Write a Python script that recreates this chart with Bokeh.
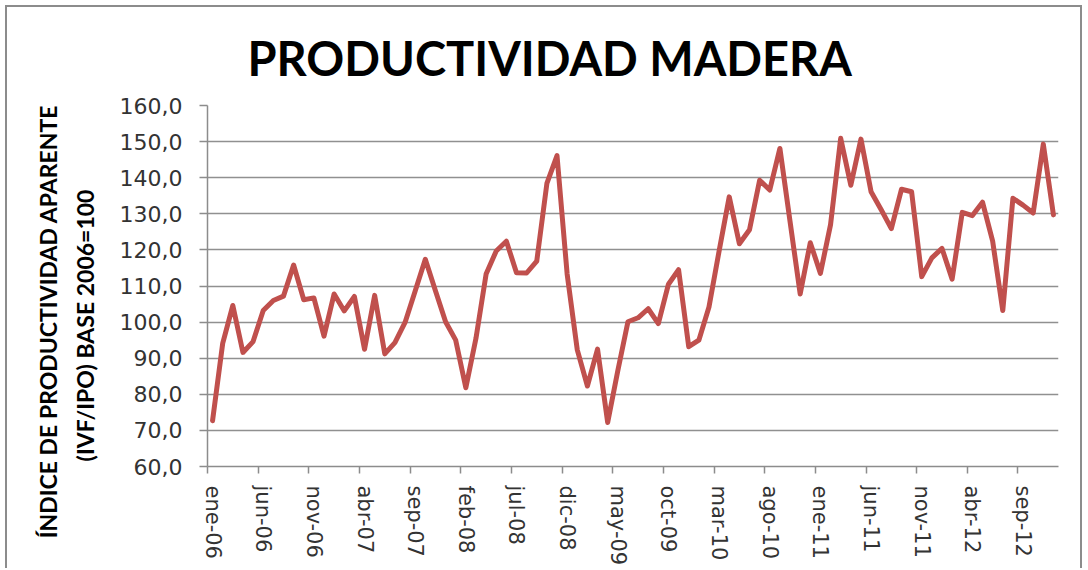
import math
from bokeh.plotting import figure
from bokeh.layouts import row
from bokeh.models import Range1d, FixedTicker, LinearAxis, ColumnDataSource, Grid
from bokeh.core.properties import value
from bokeh.embed import file_html
from bokeh.resources import INLINE

# ---------------- data ----------------
months = ["ene", "feb", "mar", "abr", "may", "jun", "jul", "ago", "sep", "oct", "nov", "dic"]
years = ["06", "07", "08", "09", "10", "11", "12"]
periods = [f"{m}-{y}" for y in years for m in months]

values = [
    72.7, 94.1, 104.6, 91.6, 94.6, 103.2, 106.0, 107.2, 115.8, 106.2, 106.7, 96.1,
    107.8, 103.1, 107.1, 92.5, 107.4, 91.2, 94.3, 99.9, 108.6, 117.4, 108.7, 100.1,
    95.0, 81.8, 95.5, 113.3, 119.7, 122.4, 113.7, 113.6, 116.9, 138.4, 146.1, 113.3,
    92.3, 82.3, 92.5, 72.2, 86.5, 100.1, 101.2, 103.7, 99.6, 110.5, 114.5, 93.2,
    95.0, 104.2, 119.7, 134.7, 121.7, 125.6, 139.3, 136.6, 148.1, 127.9, 107.8, 122.0,
    113.5, 127.0, 150.9, 137.9, 150.7, 136.1, 131.1, 125.9, 136.8, 136.1, 112.6, 117.8,
    120.4, 111.9, 130.4, 129.5, 133.2, 122.4, 103.2, 134.3, 132.4, 130.2, 149.3, 129.7,
]

y_ticks = [60, 70, 80, 90, 100, 110, 120, 130, 140, 150, 160]
y_tick_labels = ["60,0", "70,0", "80,0", "90,0", "100,0", "110,0", "120,0",
                 "130,0", "140,0", "150,0", "160,0"]
label_step = 5

title_text = "PRODUCTIVIDAD MADERA"
ytitle_lines = ["ÍNDICE DE PRODUCTIVIDAD APARENTE", "(IVF/IPO) BASE 2006=100"]

# ---------------- layout (page pixels) ----------------
N = len(periods)
Y_MIN, Y_MAX = y_ticks[0], y_ticks[-1]
OX, OY = 7, 7            # content origin on page (5 margin + 2 border)
H = 561
WT = 100                 # width of the y-title strip
WM = 973                 # width of the chart
FL, FT, FW, FH = 207 - OX - WT, 105 - OY, 851, 365
FRAME_LEFT_PAGE = OX + WT + FL

# ---------- y-title strip ----------
tfig = figure(width=WT, height=H, x_range=Range1d(OX, OX + WT),
              y_range=Range1d(OY + H, OY), output_backend="svg",
              toolbar_location=None, x_axis_type=None, y_axis_type=None,
              min_border=0, min_border_left=0, min_border_right=0,
              min_border_top=0, min_border_bottom=0)
tfig.frame_align = False
tfig.outline_line_color = None
tfig.xgrid.visible = False
tfig.ygrid.visible = False
tsrc = ColumnDataSource(dict(x=[47, 84], y=[321, 325], t=ytitle_lines))
tfig.text(x="x", y="y", text="t", source=tsrc, angle=math.pi / 2,
          text_align="center", text_baseline="middle",
          text_font=value("Lato"), text_font_style="bold",
          text_font_size=value("23px"), text_color="black")

# ---------- main chart ----------
p = figure(width=WM, height=H, x_range=Range1d(0, N), y_range=Range1d(Y_MIN, Y_MAX),
           output_backend="svg", toolbar_location=None,
           x_axis_type=None, y_axis_type=None,
           min_border_left=FL, min_border_right=WM - FL - FW,
           min_border_top=FT, min_border_bottom=H - FT - FH)
p.frame_align = False
p.outline_line_color = None
p.background_fill_color = "white"
p.border_fill_color = "white"

# title
p.title.text = title_text
p.title.align = "left"
p.title.offset = 553 - 306 - FRAME_LEFT_PAGE
p.title.text_font = "Lato"
p.title.text_font_style = "bold"
p.title.text_font_size = "47px"
p.title.text_color = "black"
p.title.standoff = 39

# y axis
yticker = FixedTicker(ticks=y_ticks)
yaxis = LinearAxis(ticker=yticker)
yaxis.major_label_overrides = {t: l for t, l in zip(y_ticks, y_tick_labels)}
yaxis.axis_line_color = "#8c8c8c"
yaxis.axis_line_width = 1.5
yaxis.major_tick_line_color = "#8c8c8c"
yaxis.major_tick_line_width = 1.5
yaxis.major_tick_out = 8
yaxis.major_tick_in = 0
yaxis.minor_tick_line_color = None
yaxis.major_label_standoff = 17
yaxis.major_label_text_font = "DejaVu Sans"
yaxis.major_label_text_font_size = "22px"
yaxis.major_label_text_color = "#333333"
p.add_layout(yaxis, "left")

grid = Grid(dimension=1, ticker=yticker, grid_line_color="#909090", grid_line_width=1.4)
p.add_layout(grid)

# x axis: tick marks on category boundaries
xticker = FixedTicker(ticks=list(range(0, N, label_step)))
xaxis = LinearAxis(ticker=xticker)
xaxis.axis_line_color = "#8c8c8c"
xaxis.axis_line_width = 1.5
xaxis.major_tick_line_color = "#8c8c8c"
xaxis.major_tick_line_width = 1.5
xaxis.major_tick_out = 7
xaxis.major_tick_in = 0
xaxis.minor_tick_line_color = None
xaxis.major_label_overrides = {i: "" for i in range(0, N, label_step)}
xaxis.major_label_text_font_size = "1px"
xaxis.major_label_standoff = 0
p.add_layout(xaxis, "below")

# x axis: labels centred on categories
label_pos = [i + 0.5 for i in range(0, N, label_step)]
xlab = LinearAxis(ticker=FixedTicker(ticks=label_pos))
xlab.major_label_overrides = {x: periods[int(x)] for x in label_pos}
xlab.axis_line_color = None
xlab.major_tick_line_color = None
xlab.major_tick_out = 0
xlab.major_tick_in = 0
xlab.minor_tick_line_color = None
xlab.major_label_orientation = "vertical"
xlab.major_label_standoff = 12
xlab.major_label_text_font = "DejaVu Sans"
xlab.major_label_text_font_size = "21px"
xlab.major_label_text_color = "#333333"
p.add_layout(xlab, "below")

# data line
src = ColumnDataSource(dict(x=[i + 0.5 for i in range(N)], y=values, period=periods))
p.line(x="x", y="y", source=src, line_color="#C0504D", line_width=5,
       line_join="round", line_cap="round")

layout = row(tfig, p)
layout.spacing = 0
layout.styles = {"margin-left": "5px", "margin-top": "5px",
                 "border-left": "2px solid #8c8c8c", "border-top": "2px solid #8c8c8c",
                 "border-right": "2px solid #8c8c8c"}

open("out.html", "w").write(file_html(layout, INLINE))
